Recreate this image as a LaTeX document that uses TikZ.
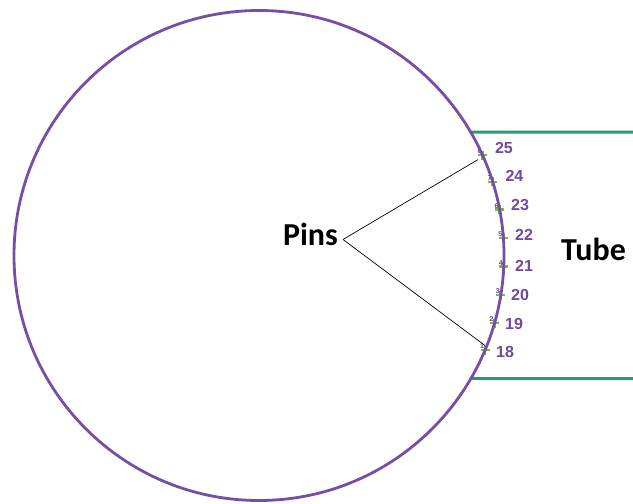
\documentclass[tikz,border=0pt]{standalone}
\usepackage{fontspec}
\setmainfont{Carlito}
\newfontfamily\numfont{Liberation Sans}
\usetikzlibrary{calc}
\definecolor{circcol}{RGB}{118,78,166}
\definecolor{numcol}{RGB}{112,72,160}
\definecolor{tubecol}{RGB}{36,158,108}
\definecolor{pluscol}{RGB}{112,190,60}
\tikzset{
  circline/.style={draw=circcol,line width=2.8pt},
  tubeline/.style={draw=tubecol,line width=3pt},
  pinmark/.style={minimum size=9pt,inner sep=0pt,outer sep=0pt},
  plusbar/.style={draw=pluscol,line width=2.6pt},
  numlabel/.style={font=\numfont\bfseries\fontsize{16}{16}\selectfont,text=numcol,inner sep=0pt},
  tinynum/.style={font=\numfont\bfseries\fontsize{7}{7}\selectfont,text=numcol,inner sep=0pt},
  biglabel/.style={font=\bfseries\fontsize{32}{32}\selectfont,text=black,inner sep=0pt},
  pointer/.style={draw=black,line width=0.7pt}
}
\begin{document}
\begin{tikzpicture}[x=1pt,y=-1pt]
\useasboundingbox (0,0) rectangle (633,504);
\fill[white] (0,0) rectangle (633,504);
\coordinate (c) at (259,255.5);
% tube
\coordinate (tt) at ($(c)+(-30.27:245)$);
\coordinate (tb) at ($(c)+(30.0:245)$);
\coordinate (tte) at (633,132);
\coordinate (tbe) at (633,378);
\draw[tubeline] (tt) -- (tte);
\draw[tubeline] (tb) -- (tbe);
% pins
\foreach \n/\a/\lx/\ly/\s in {25/24.2/504/147.5/8,24/17.5/514.5/176/7,23/10.8/520/205/6,22/4.1/524/235/5,21/-2.6/524/266/4,20/-9.3/520/295/3,19/-16.0/514/324/2,18/-22.7/505/352/1}{
  \node[pinmark] (p\n) at ($(c)+(-\a:245)$) {};
  \draw[plusbar] (p\n.west) -- (p\n.east) (p\n.north) -- (p\n.south);
  \node[tinynum] (s\n) at ($(p\n)+(-3,-4)$) {\s};
  \node[numlabel] (l\n) at (\lx,\ly) {\n};
}
% circle
\node[circle,circline,minimum size=490pt,inner sep=0pt] (circ) at (c) {};
% labels
\node[biglabel,anchor=base] (pins) at (310.5,245) {Pins};
\node[biglabel,anchor=base] (tube) at (593.5,260) {Tube};
\coordinate (j) at (343,239.5);
\draw[pointer] (j) -- (p25.south west);
\draw[pointer] (j) -- (p18.north);
\end{tikzpicture}
\end{document}
